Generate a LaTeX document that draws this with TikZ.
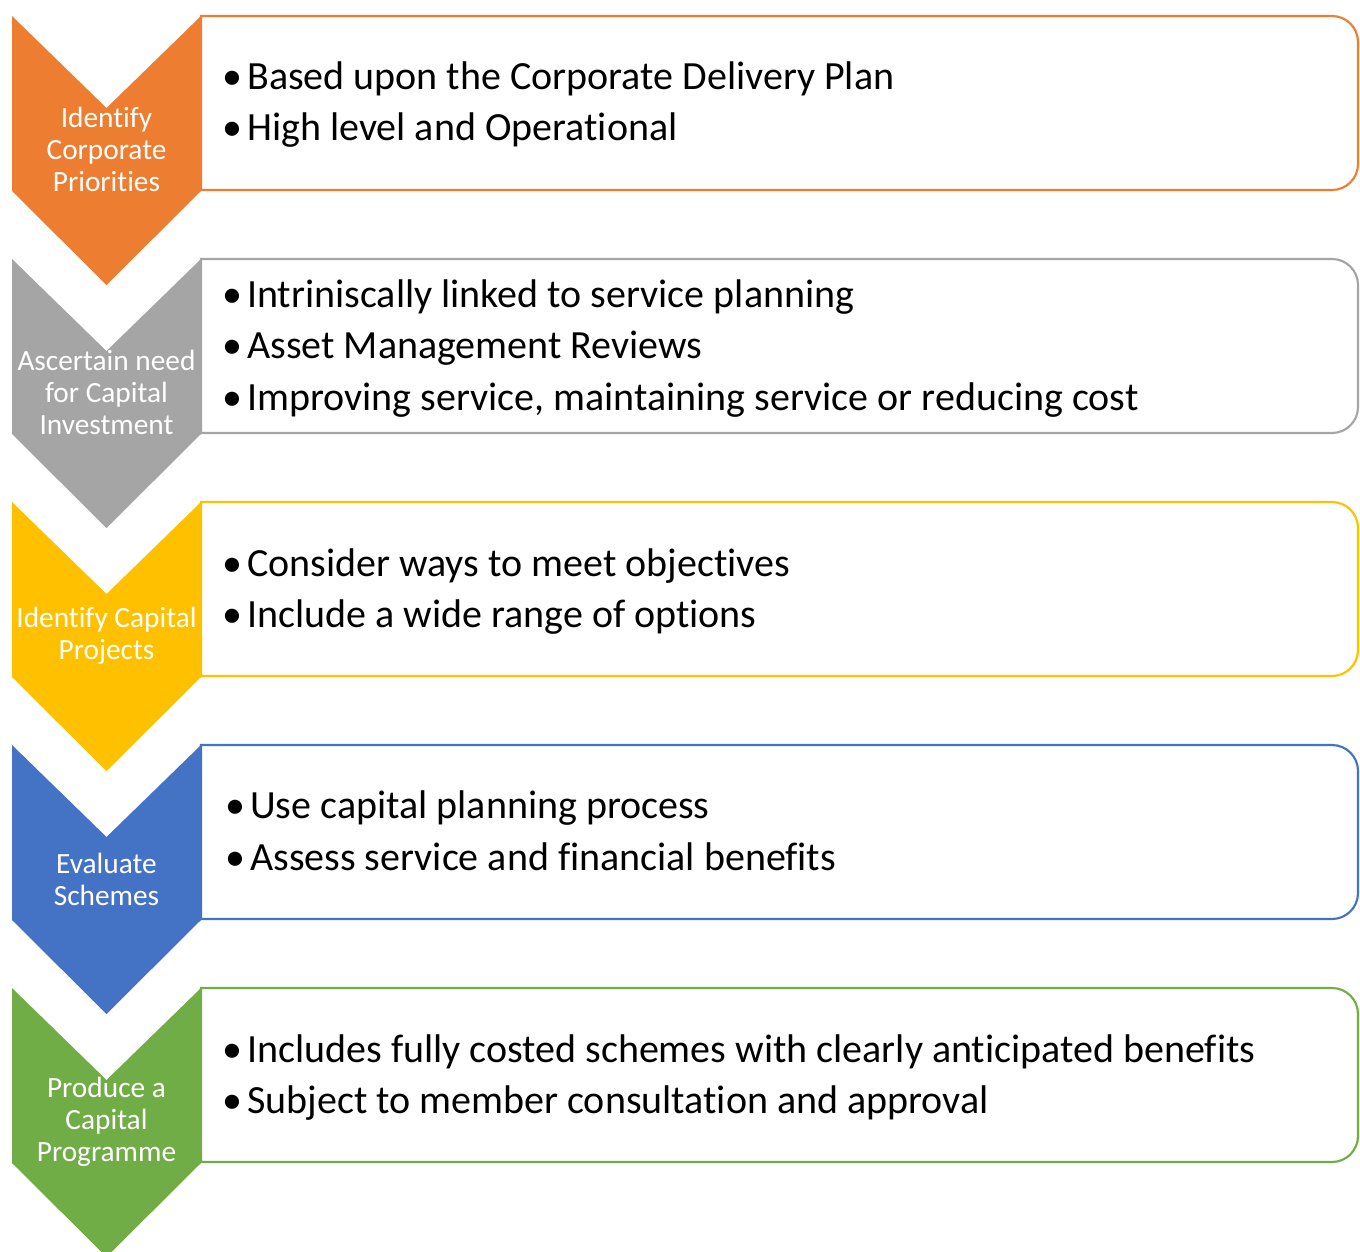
\documentclass[tikz,border=0pt]{standalone}
\usepackage{fontspec}
\setmainfont{Carlito}[RawFeature={-liga;-dlig;-clig}]
\definecolor{corange}{HTML}{ED7D31}
\definecolor{cgray}{HTML}{A5A5A5}
\definecolor{cgold}{HTML}{FFC000}
\definecolor{cblue}{HTML}{4472C4}
\definecolor{cgreen}{HTML}{70AD47}
\tikzset{
  chev/.style={fill=#1, draw=none},
  tbox/.style={draw=#1, line width=1.6pt, fill=white},
  chevtext/.style={text=white, align=center, font=\fontsize{22}{24}\selectfont, inner sep=0pt},
  bul/.style={anchor=base, font=\fontsize{30}{32}\selectfont, inner sep=0pt},
  btext/.style={anchor=base west, font=\fontsize{30}{32}\selectfont, inner sep=0pt},
}
\newcommand{\stage}[2]{%
  \path[tbox=#2] (201,#1) -- (1300,#1) [rounded corners=19.5pt] -- (1358,#1) -- (1358,#1+174) -- (1300,#1+174) [sharp corners] -- (201,#1+174) -- cycle;
  \path[chev=#2] (12,#1) -- (106.5,#1+92) -- (201,#1) -- (201,#1+175) -- (106.5,#1+269) -- (12,#1+175) -- cycle;
}
\begin{document}
\begin{tikzpicture}[x=0.75pt,y=-0.75pt]
\useasboundingbox (0,0) rectangle (1360,1252);
\begin{scope}
\clip (0,0) rectangle (1360,1252);
\stage{16}{corange}
\stage{259}{cgray}
\stage{502}{cgold}
\stage{745}{cblue}
\stage{988}{cgreen}
\end{scope}
% chevron texts
\node[chevtext] (c1) at (106.5,149) {Identify\\Corporate\\Priorities};
\node[chevtext] (c2) at (106.5,392) {Ascertain need\\for Capital\\Investment};
\node[chevtext] (c3) at (106.5,636) {Identify Capital\\Projects};
\node[chevtext] (c4) at (106.5,879) {Evaluate\\Schemes};
\node[chevtext] (c5) at (106.5,1122) {Produce a\\Capital\\Programme};
% bullets
\node[bul] (b11) at (232,90) {•};
\node[btext] (t11) at (247,90) {Based upon the Corporate Delivery Plan};
\node[bul] (b12) at (232,141) {•};
\node[btext] (t12) at (247,141) {High level and Operational};
\node[bul] (b21) at (232,307) {•};
\node[btext] (t21) at (247,307) {Intriniscally linked to service planning};
\node[bul] (b22) at (232,358) {•};
\node[btext] (t22) at (247,358) {Asset Management Reviews};
\node[bul] (b23) at (232,410) {•};
\node[btext] (t23) at (247,410) {Improving service, maintaining service or reducing cost};
\node[bul] (b31) at (232,576) {•};
\node[btext] (t31) at (247,576) {Consider ways to meet objectives};
\node[bul] (b32) at (232,627) {•};
\node[btext] (t32) at (247,627) {Include a wide range of options};
\node[bul] (b41) at (235,818) {•};
\node[btext] (t41) at (250,818) {Use capital planning process};
\node[bul] (b42) at (235,870) {•};
\node[btext] (t42) at (250,870) {Assess service and financial benefits};
\node[bul] (b51) at (232,1062) {•};
\node[btext] (t51) at (247,1062) {Includes fully costed schemes with clearly anticipated benefits};
\node[bul] (b52) at (232,1113) {•};
\node[btext] (t52) at (247,1113) {Subject to member consultation and approval};
\end{tikzpicture}
\end{document}
